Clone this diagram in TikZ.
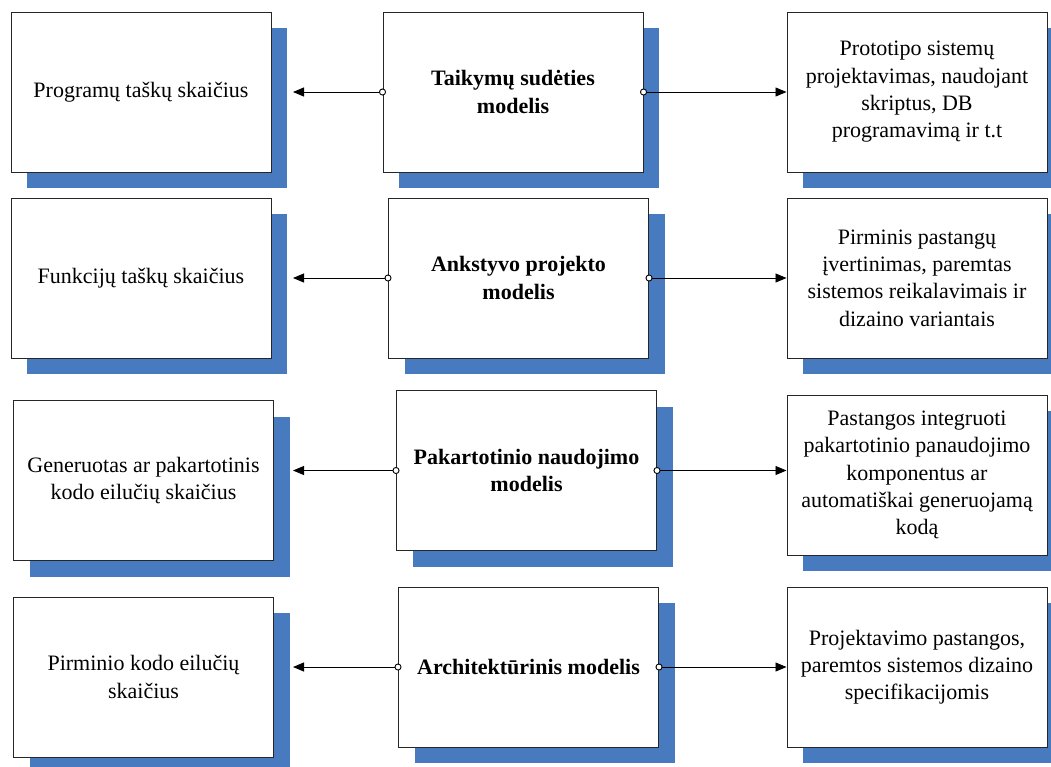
\documentclass[tikz,border=0pt]{standalone}
\usepackage{fontspec}
\setmainfont{Liberation Serif}
\usetikzlibrary{arrows.meta,shadows}
\definecolor{shadowblue}{RGB}{71,122,191}
\begin{document}
\begin{tikzpicture}[x=1pt,y=-1pt,
  box/.style={draw=black!85, line width=1pt, fill=white,
    minimum width=260pt, minimum height=160pt, inner sep=0pt, align=center,
    font=\fontsize{22pt}{27.3pt}\selectfont,
    general shadow={fill=shadowblue, shadow xshift=16pt, shadow yshift=-16pt}},
  model/.style={box, font=\fontsize{22pt}{27.3pt}\selectfont\bfseries},
  link/.style={line width=0.9pt, black,
    {Circle[fill=white,length=7pt,width=7pt]}-{Triangle[length=11pt,width=9pt]},
    shorten <=-3.5pt}]
\useasboundingbox (0,0) rectangle (1051,766);
\clip (0,0) rectangle (1051,766);

% row 1
\node[box]   (l1) at (141,92)   {Programų taškų skaičius};
\node[model] (m1) at (513,92)   {Taikymų sudėties\\modelis};
\node[box]   (r1) at (917,92)   {Prototipo sistemų\\projektavimas, naudojant\\skriptus, DB\\programavimą ir t.t};
% row 2
\node[box]   (l2) at (141,278)  {Funkcijų taškų skaičius};
\node[model] (m2) at (518.5,278) {Ankstyvo projekto\\modelis};
\node[box]   (r2) at (917,278)  {Pirminis pastangų\\įvertinimas, paremtas\\sistemos reikalavimais ir\\dizaino variantais};
% row 3
\node[box]   (l3) at (143.5,480.5) {Generuotas ar pakartotinis\\kodo eilučių skaičius};
\node[model] (m3) at (526.5,470.5) {Pakartotinio naudojimo\\modelis};
\node[box]   (r3) at (917,475)  {Pastangos integruoti\\pakartotinio panaudojimo\\komponentus ar\\automatiškai generuojamą\\kodą};
% row 4
\node[box]   (l4) at (143.5,677) {Pirminio kodo eilučių\\skaičius};
\node[model] (m4) at (528.5,667) {Architektūrinis modelis};
\node[box]   (r4) at (917,667)  {Projektavimo pastangos,\\paremtos sistemos dizaino\\specifikacijomis};

% arrow ends beside the left column
\coordinate (t1) at (293,92);
\coordinate (t2) at (293,278);
\coordinate (t3) at (293,470.5);
\coordinate (t4) at (293,667);

\foreach \i in {1,2,3,4}{
  \draw[link] (m\i.west) -- (t\i);
  \draw[link] (m\i.east) -- (m\i.east -| r\i.west);
}
\end{tikzpicture}
\end{document}
